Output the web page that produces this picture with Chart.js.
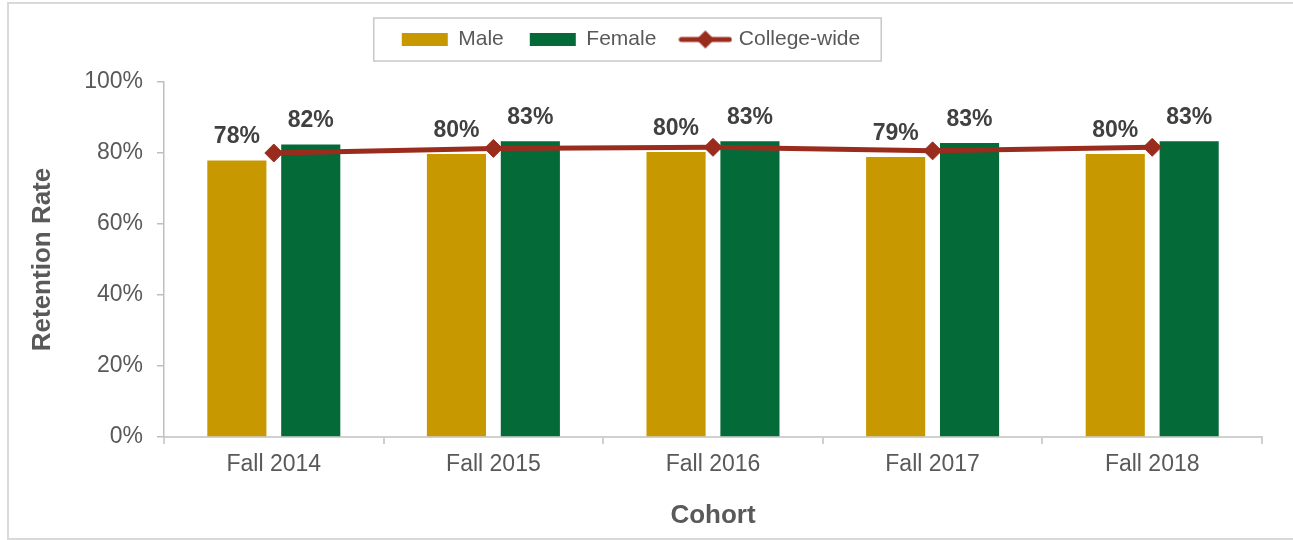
<html>
<head>
<meta charset="utf-8"/>
<title>Retention Rate by Cohort</title>
<script src="https://cdn.jsdelivr.net/npm/chart.js@4.4.1/dist/chart.umd.min.js"></script>
<style>
    body { margin: 0; background: #fff; overflow: hidden; }
    .marco { position: absolute; left: 7px; top: 2px; width: 1284px; height: 534px; border: 2px solid #d9d9d9; border-right: none; }
    #grafica { position: absolute; left: 0; top: 0; }
</style>
</head>
<body>
<div class="marco"></div>
<canvas id="grafica" width="1293" height="540"></canvas>

<script>
var cohortes = ['Fall 2014', 'Fall 2015', 'Fall 2016', 'Fall 2017', 'Fall 2018'];
var hombres = [77.9, 79.7, 80.3, 78.9, 79.7];
var mujeres = [82.4, 83.3, 83.3, 82.8, 83.3];
var colegio = [80.0, 81.3, 81.6, 80.6, 81.6];
var ticksY = [0, 20, 40, 60, 80, 100];

var oro = '#C89800';
var verde = '#046A38';
var rojo = '#9A2C1E';
var gris = '#595959';

// marcador de la leyenda: linea con rombo
var marca = document.createElement('canvas');
marca.width = 54; marca.height = 20;
var m = marca.getContext('2d');
m.strokeStyle = rojo; m.lineWidth = 5; m.lineCap = 'round';
m.beginPath(); m.moveTo(3, 10); m.lineTo(51, 10); m.stroke();
m.fillStyle = rojo;
m.beginPath(); m.moveTo(27, 1); m.lineTo(36, 10); m.lineTo(27, 19); m.lineTo(18, 10); m.closePath(); m.fill();

var ajustes = {
    id: 'ajustes',
    afterLayout: (chart) => {
        chart.legend.top -= 22;
        chart.legend.bottom -= 22;
    },
    afterDatasetsDraw: (chart) => {
        var ctx = chart.ctx;
        ctx.save();
        ctx.font = 'bold 23px "Liberation Sans", Arial, sans-serif';
        ctx.fillStyle = '#404040';
        ctx.textAlign = 'center';
        ctx.textBaseline = 'alphabetic';
        [0, 1].forEach((i) => {
            var meta = chart.getDatasetMeta(i);
            meta.data.forEach((barra, j) => {
                var v = chart.data.datasets[i].data[j];
                ctx.fillText(Math.round(v) + '%', barra.x, barra.y - 17);
            });
        });
        ctx.restore();
    },
    afterDraw: (chart) => {
        var cajas = chart.legend.legendHitBoxes;
        if (!cajas || !cajas.length) return;
        var ctx = chart.ctx;
        var primera = cajas[0], ultima = cajas[cajas.length - 1];
        var cy = primera.top + primera.height / 2;
        ctx.save();
        ctx.strokeStyle = '#c8c8c8';
        ctx.lineWidth = 1.5;
        ctx.strokeRect(primera.left - 28, cy - 21.5, ultima.left + ultima.width - primera.left + 49, 43);
        ctx.restore();
    }
};

var contenedor = document.getElementById('grafica');
var grafica = new Chart(contenedor, {
    type: 'bar',
    data: {
        labels: cohortes,
        datasets: [{
            label: 'Male',
            data: hombres,
            backgroundColor: oro,
            order: 1,
            categoryPercentage: 0.673,
            barPercentage: 0.8
        }, {
            label: 'Female',
            data: mujeres,
            backgroundColor: verde,
            order: 1,
            categoryPercentage: 0.673,
            barPercentage: 0.8
        }, {
            type: 'line',
            label: 'College-wide',
            data: colegio,
            borderColor: rojo,
            backgroundColor: rojo,
            borderWidth: 5,
            tension: 0,
            pointStyle: 'rectRot',
            pointRadius: 9,
            pointBorderWidth: 1,
            pointBackgroundColor: rojo,
            pointBorderColor: rojo,
            order: 0
        }]
    },
    options: {
        responsive: false,
        animation: false,
        layout: { padding: { top: 25, right: 31, left: 0, bottom: 0 } },
        plugins: {
            tooltip: { enabled: false },
            legend: {
                position: 'top',
                labels: {
                    usePointStyle: true,
                    pointStyleWidth: 46,
                    boxHeight: 13,
                    padding: 26,
                    color: gris,
                    font: { family: '"Liberation Sans", Arial, sans-serif', size: 21 },
                    generateLabels: (chart) => chart.data.datasets.map((ds, i) => ({
                        text: ds.label,
                        fillStyle: ds.type === 'line' ? ds.borderColor : ds.backgroundColor,
                        strokeStyle: ds.type === 'line' ? ds.borderColor : ds.backgroundColor,
                        lineWidth: 0,
                        pointStyle: ds.type === 'line' ? marca : 'rect',
                        fontColor: gris,
                        hidden: false,
                        datasetIndex: i
                    }))
                }
            }
        },
        scales: {
            x: {
                grid: { offset: true, drawOnChartArea: false, tickLength: 7, color: '#d0d0d0', lineWidth: 2 },
                border: { color: '#d0d0d0', width: 2 },
                ticks: { color: gris, padding: 7, font: { family: '"Liberation Sans", Arial, sans-serif', size: 23 } },
                title: {
                    display: true,
                    text: 'Cohort',
                    color: gris,
                    padding: { top: 4, bottom: 9 },
                    font: { family: '"Liberation Sans", Arial, sans-serif', size: 26, weight: 'bold' }
                },
                afterFit: (escala) => { escala.height = 103; }
            },
            y: {
                min: 0,
                max: 100,
                afterBuildTicks: (escala) => { escala.ticks = ticksY.map((v) => ({ value: v })); },
                grid: { drawOnChartArea: false, tickLength: 7, color: '#bfbfbf', lineWidth: 1.5 },
                border: { color: '#bfbfbf', width: 1.5 },
                ticks: {
                    color: gris,
                    padding: 14,
                    font: { family: '"Liberation Sans", Arial, sans-serif', size: 23 },
                    callback: (v) => v + '%'
                },
                title: {
                    display: true,
                    text: 'Retention Rate',
                    color: gris,
                    padding: { top: 27, bottom: 4 },
                    font: { family: '"Liberation Sans", Arial, sans-serif', size: 26, weight: 'bold' }
                },
                afterFit: (escala) => { escala.width = 164; }
            }
        }
    },
    plugins: [ajustes]
});
</script>
</body>
</html>
